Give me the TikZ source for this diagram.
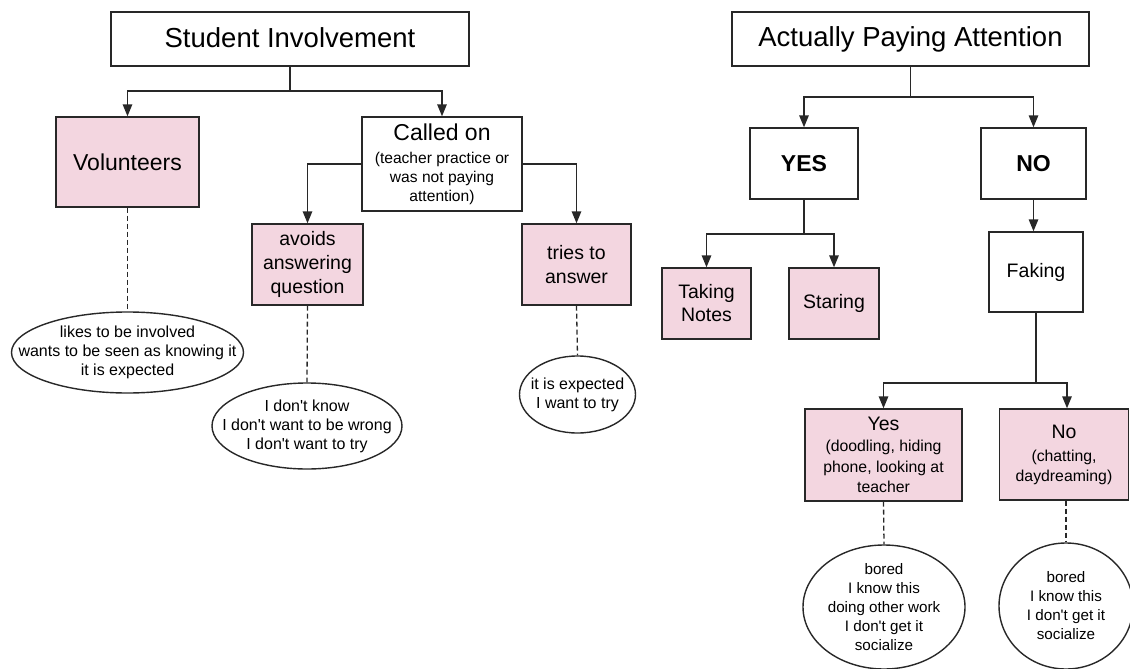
\documentclass[tikz,border=0pt]{standalone}
\usepackage{fontspec}
\setmainfont{Liberation Sans}[Ligatures=TeXOff]
\usetikzlibrary{arrows.meta,shapes.geometric}
\definecolor{boxpink}{RGB}{243,214,224}
\definecolor{ink}{RGB}{40,40,40}
\newcommand{\fs}[2]{\fontsize{#1}{#2}\selectfont}
\tikzset{
  box/.style={draw=ink, line width=1.4pt, rectangle, inner sep=0pt, align=center, text=black},
  pinkbox/.style={box, fill=boxpink},
  bubble/.style={draw=ink, line width=1.4pt, ellipse, inner sep=0pt, fill=white},
  bubbletext/.style={inner sep=0pt, align=center, text=black, font=\fs{16}{19}},
  smallbubbletext/.style={bubbletext, font=\fs{15.2}{19}},
  arr/.style={draw=ink, line width=1.4pt, -{Triangle[length=12pt,width=9.5pt]}},
  link/.style={draw=ink, line width=1.4pt},
  dlink/.style={draw=ink, line width=1.3pt, dash pattern=on 5pt off 3pt}
}
\begin{document}
\begin{tikzpicture}[x=1pt,y=-1pt]
\useasboundingbox (0,0) rectangle (1130,669);

% ---------- Student involvement tree ----------
\node[box, minimum width=358pt, minimum height=54pt, font=\fs{27.5}{33}] (si) at (290,39) {\raisebox{3pt}{Student Involvement}};
\node[pinkbox, minimum width=143pt, minimum height=90pt, font=\fs{23}{28}] (vol) at (127.5,162) {Volunteers};
\node[box, minimum width=160pt, minimum height=94pt, font=\fs{15.6}{19}] (called) at (442,164)
  {{\fs{23}{25}Called on}\\[4pt](teacher practice or\\was not paying\\attention)};
\node[pinkbox, minimum width=111pt, minimum height=81pt, font=\fs{19.5}{24}] (avoids) at (307.5,264.5) {avoids\\answering\\question};
\node[pinkbox, minimum width=109pt, minimum height=81pt, font=\fs{19.5}{24}] (tries) at (576.5,264.5) {tries to\\answer};

\node[bubble, minimum width=232pt, minimum height=81pt] (e1) at (127.5,352.5) {};
\node[bubbletext] (e1t) at (e1.center) {likes to be involved\\wants to be seen as knowing it\\it is expected};
\node[bubble, minimum width=190pt, minimum height=86pt] (e2) at (307,426) {};
\node[bubbletext] (e2t) at (e2.center) {I don't know\\I don't want to be wrong\\I don't want to try};
\node[bubble, minimum width=116pt, minimum height=77pt] (e3) at (577.5,394.5) {};
\node[bubbletext] (e3t) at (e3.center) {it is expected\\I want to try};

\coordinate (j1) at (290,91);
\draw[link] (si.south) -- (j1);
\draw[arr] (j1) -| (vol.north);
\draw[arr] (j1) -| (called.north);
\draw[arr] (called.west) -| (avoids.north);
\draw[arr] (called.east) -| (tries.north);
\draw[dlink] (vol.south) -- (e1.north);
\draw[dlink] (avoids.south) -- (e2.north);
\draw[dlink] (tries.south) -- (e3.north);

% ---------- Attention tree ----------
\node[box, minimum width=357pt, minimum height=54pt, font=\fs{27.5}{33}] (apa) at (910.5,39) {\raisebox{3pt}{Actually Paying Attention}};
\node[box, minimum width=108pt, minimum height=71pt, font=\fs{23}{28}\bfseries] (yes) at (804,163.5) {YES};
\node[box, minimum width=105pt, minimum height=71pt, font=\fs{23}{28}\bfseries] (no) at (1033.5,163.5) {NO};
\node[pinkbox, minimum width=89pt, minimum height=71pt, font=\fs{19.5}{23}] (notes) at (706.5,303.5) {Taking\\Notes};
\node[pinkbox, minimum width=90pt, minimum height=71pt, font=\fs{19.5}{23}] (staring) at (834,303.5) {Staring};
\node[box, minimum width=94pt, minimum height=80pt, font=\fs{19.5}{23}] (faking) at (1036,272) {Faking};
\node[pinkbox, minimum width=157pt, minimum height=92pt, font=\fs{15.8}{20.5}] (fyes) at (883.5,455)
  {{\fs{19.5}{22}Yes}\\[1pt](doodling, hiding\\phone, looking at\\teacher};
\node[pinkbox, minimum width=129pt, minimum height=91pt, font=\fs{15.8}{19.5}] (fno) at (1064,454.5)
  {{\fs{19.5}{23}No}\\[4pt](chatting,\\daydreaming)};

\node[bubble, minimum width=162pt, minimum height=124pt] (e4) at (884,607) {};
\node[smallbubbletext] (e4t) at (e4.center) {bored\\I know this\\doing other work\\I don't get it\\socialize};
\node[bubble, minimum width=134pt, minimum height=126pt] (e5) at (1066,606) {};
\node[smallbubbletext] (e5t) at (e5.center) {bored\\I know this\\I don't get it\\socialize};

\coordinate (j2) at (910.5,97);
\coordinate (j3) at (804,234);
\coordinate (j4) at (1036,383);
\draw[link] (apa.south) -- (j2);
\draw[arr] (j2) -| (yes.north);
\draw[arr] (j2) -| (no.north);
\draw[link] (yes.south) -- (j3);
\draw[arr] (j3) -| (notes.north);
\draw[arr] (j3) -| (staring.north);
\draw[arr] (no.south) -- (no.south |- faking.north);
\draw[link] (faking.south) -- (j4);
\draw[arr] (j4) -| (fyes.north);
\draw[arr] (j4) -| ([xshift=3pt]fno.north);
\draw[dlink] (fyes.south) -- (e4.north);
\draw[dlink] ([xshift=2pt]fno.south) -- ([xshift=2pt]fno.south |- e5.north);
\end{tikzpicture}
\end{document}
